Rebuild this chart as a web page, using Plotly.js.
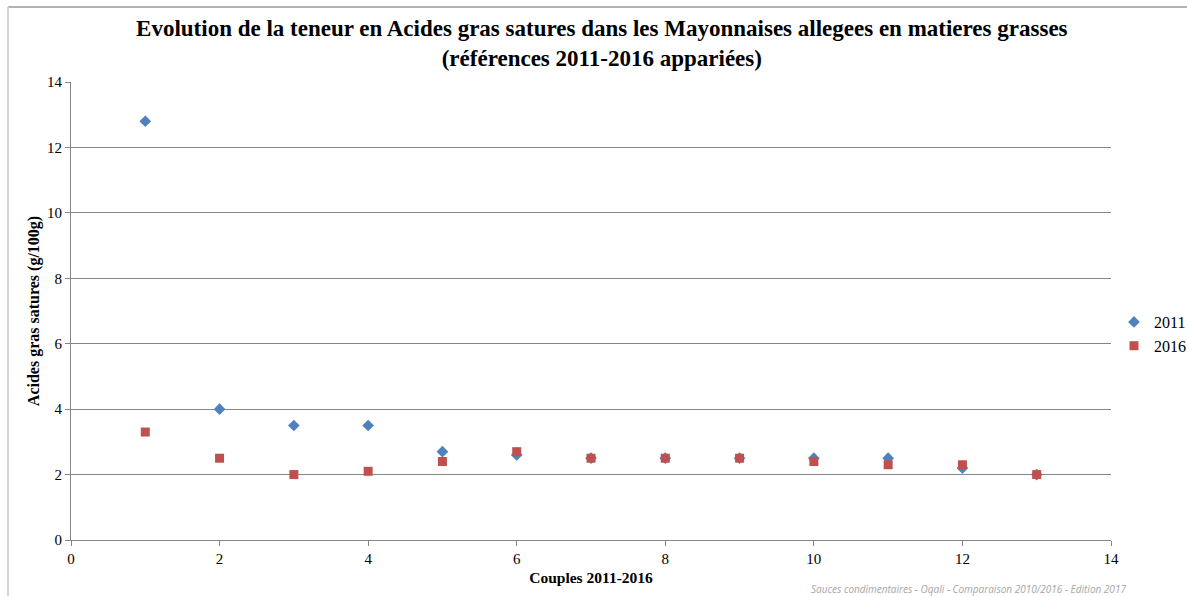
<!DOCTYPE html>
<html>
<head>
<meta charset="utf-8">
<script src="https://cdn.plot.ly/plotly-3.0.1.min.js"></script>
<style>html,body{margin:0;padding:0;background:#fff;}#chart{width:1187px;height:596px;}</style>
</head>
<body>
<div id="chart"></div>
<script>
const couples = [1, 2, 3, 4, 5, 6, 7, 8, 9, 10, 11, 12, 13];
const values2011 = [12.8, 4.0, 3.5, 3.5, 2.7, 2.6, 2.5, 2.5, 2.5, 2.5, 2.5, 2.2, 2.0];
const values2016 = [3.3, 2.5, 2.0, 2.1, 2.4, 2.7, 2.5, 2.5, 2.5, 2.4, 2.3, 2.3, 2.0];
const seriesNames = ["2011", "2016"];
const xTicks = [0, 2, 4, 6, 8, 10, 12, 14];
const yTicks = [0, 2, 4, 6, 8, 10, 12, 14];

const serif = "Liberation Serif, DejaVu Serif, serif";
const L = 71, R = 76, T = 82, B = 56, W = 1187, H = 596;
const pw = W - L - R, ph = H - T - B;
const px = v => (v - L) / pw;
const py = v => (H - B - v) / ph;

const traces = [
  {x: couples, y: values2011, name: seriesNames[0], type: "scatter", mode: "markers",
   marker: {symbol: "diamond", size: 9, color: "#4F81BD"}},
  {x: couples, y: values2016, name: seriesNames[1], type: "scatter", mode: "markers",
   marker: {symbol: "square", size: 9, color: "#C0504D"}}
];

const layout = {
  width: W, height: H,
  margin: {l: L, r: R, t: T, b: B, autoexpand: false},
  paper_bgcolor: "#fff", plot_bgcolor: "#fff",
  font: {family: serif, color: "#000", size: 14},
  title: {
    text: "<b>Evolution de la teneur en Acides gras satures dans les Mayonnaises allegees en matieres grasses<br>(références 2011-2016 appariées)</b>",
    font: {family: serif, size: 23, color: "#000"},
    xref: "container", x: 0.507, xanchor: "center",
    yref: "container", y: 1 - 36 / H, yanchor: "top"
  },
  xaxis: {
    range: [0, 14], tickvals: xTicks, ticktext: xTicks.map(String),
    showgrid: false, zeroline: false, showline: true, linecolor: "#868686", linewidth: 1,
    ticks: "outside", ticklen: 5, tickcolor: "#868686",
    tickfont: {family: serif, size: 15},
    title: {text: "<b>Couples 2011-2016</b>", font: {family: serif, size: 15.5}, standoff: 6}
  },
  yaxis: {
    range: [0, 14], tickvals: yTicks, ticktext: yTicks.map(String),
    showgrid: true, gridcolor: "#868686", gridwidth: 1, zeroline: false,
    showline: true, linecolor: "#868686", linewidth: 1,
    ticks: "outside", ticklen: 5, tickcolor: "#868686",
    tickfont: {family: serif, size: 15},
    title: {text: "<b>Acides gras satures (g/100g)</b>", font: {family: serif, size: 16}, standoff: 3}
  },
  showlegend: true,
  legend: {
    x: px(1114), xanchor: "left", y: py(305), yanchor: "top",
    font: {family: serif, size: 16}, itemwidth: 30, tracegroupgap: 2,
    bgcolor: "rgba(0,0,0,0)"
  },
  shapes: [
    {type: "line", xref: "paper", yref: "paper", x0: px(8), x1: px(1187), y0: py(7), y1: py(7),
     line: {color: "#9a9a9a", width: 1.5}},
    {type: "line", xref: "paper", yref: "paper", x0: px(8), x1: px(8), y0: py(7), y1: py(596),
     line: {color: "#d4d4d4", width: 2}}
  ],
  annotations: [
    {text: "<i>Sauces condimentaires - Oqali - Comparaison 2010/2016 - Edition 2017</i>",
     xref: "paper", yref: "paper", x: px(1128), y: py(589), xanchor: "right", yanchor: "middle",
     showarrow: false, font: {family: "Open Sans, Liberation Sans, sans-serif", size: 10, color: "#a6a6a6"}}
  ]
};

Plotly.newPlot("chart", traces, layout, {displayModeBar: false, responsive: false});
</script>
</body>
</html>
